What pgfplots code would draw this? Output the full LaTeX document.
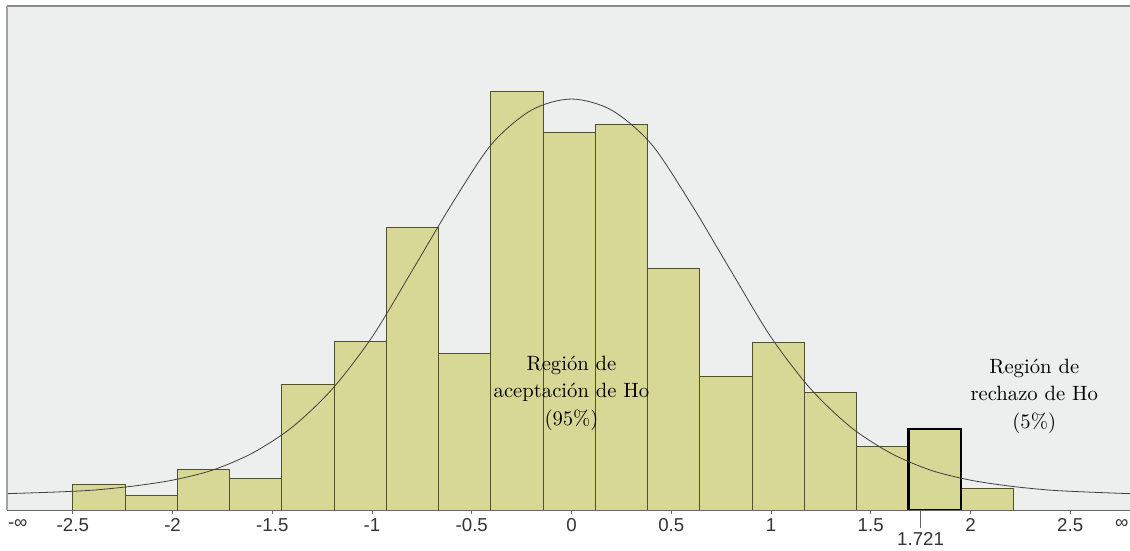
\documentclass[border=0pt]{standalone}
\usepackage{pgfplots}
\pgfplotsset{compat=1.18}
\usepackage{fontspec}
\newfontfamily\arial{Liberation Sans}
\newfontfamily\cmten{lmroman10-regular.otf}
\definecolor{bgc}{RGB}{236,239,238}
\definecolor{barfill}{RGB}{215,215,150}
\definecolor{baredge}{RGB}{80,80,45}
\definecolor{framec}{RGB}{140,140,140}

\begin{document}
\begin{tikzpicture}
\begin{axis}[
    name=ax,
    scale only axis,
    width=842pt, height=378pt,
    xmin=-2.83, xmax=2.80,
    ymin=0, ymax=504,
    axis line style={draw=none},
    axis background/.style={fill=bgc},
    xtick={-2.5,-2,-1.5,-1,-0.5,0,0.5,1,1.5,2,2.5},
    xticklabels={-2.5,-2,-1.5,-1,-0.5,0,0.5,1,1.5,2,2.5},
    ytick=\empty,
    xtick pos=bottom,
    tick align=outside,
    major tick length=3pt,
    tick style={black!60, line width=0.6pt},
    xticklabel style={font=\arial\fontsize{14}{16}\selectfont, text=black!80},
    xticklabel shift=0pt,
    extra x ticks={1.75},
    extra x tick labels={1.721},
    extra x tick style={major tick length=13.5pt},
    clip=false,
]

% histograma
\addplot[ybar interval, fill=barfill, draw=baredge, line width=0.7pt]
    coordinates {(-2.500,26)(-2.238,15)(-1.976,41)(-1.714,32)(-1.452,126)(-1.190,169)
                 (-0.929,283)(-0.667,157)(-0.405,419)(-0.143,378)(0.119,386)(0.381,242)
                 (0.643,134)(0.905,168)(1.167,118)(1.429,64)(1.690,81)(1.952,22)(2.214,0)};

% barra de la region critica
\addplot[ybar interval, fill=barfill, draw=black, line width=1.8pt]
    coordinates {(1.690,81)(1.952,0)};

% curva normal
\addplot[smooth, black!75, line width=0.6pt]
    coordinates {(-2.83,16.5)(-2.6,18)(-2.4,20)(-2.2,24)(-2.0,30)(-1.8,40)(-1.6,57)
                 (-1.4,83)(-1.2,121)(-1.0,173)(-0.8,239)(-0.6,306)(-0.4,366)(-0.2,400)
                 (0,411)(0.2,400)(0.4,366)(0.6,306)(0.8,239)(1.0,173)(1.2,121)(1.4,83)
                 (1.6,57)(1.8,40)(2.0,30)(2.2,24)(2.4,20)(2.6,18)(2.80,16.5)};

\node[align=center, font=\cmten\fontsize{15.5}{20.6}\selectfont, text=black]
    at (axis cs:0,117) {Región de\\aceptación de Ho\\(95\%)};
\node[align=center, font=\cmten\fontsize{15.5}{20.6}\selectfont, text=black]
    at (axis cs:2.32,114) {Región de\\rechazo de Ho\\(5\%)};

% marco
\draw[framec, line width=1.5pt] (rel axis cs:0,1) -- (rel axis cs:1,1);
\draw[framec!80, line width=1pt] (rel axis cs:0,0) -- (rel axis cs:0,1);
\draw[black!60, line width=0.8pt] (rel axis cs:0,0) -- (rel axis cs:1,0);

\node[font=\arial\fontsize{14}{16}\selectfont, text=black!80]
    at (axis cs:-2.776,0) [yshift=-10.5pt] {-∞};
\node[font=\arial\fontsize{14}{16}\selectfont, text=black!80, anchor=east, inner sep=0pt]
    at (rel axis cs:1,0) [yshift=-10.5pt, xshift=-1pt] {∞};
\end{axis}
\pgfresetboundingbox
\useasboundingbox ([shift={(-5.25pt,-30pt)}]ax.south west) rectangle ([shift={(0pt,4.5pt)}]ax.north east);
\end{tikzpicture}
\end{document}
